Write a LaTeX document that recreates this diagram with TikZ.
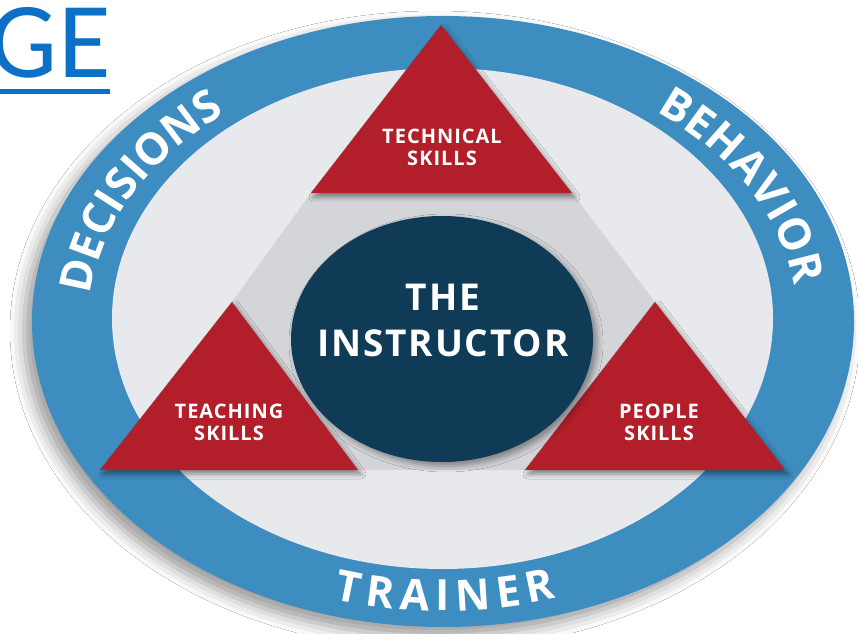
\documentclass[tikz,border=0pt]{standalone}
\usepackage{fontspec}
\usetikzlibrary{decorations.text,shadows.blur}
\newfontfamily\osfont{Open Sans}
\newfontfamily\oslsfont{Open Sans}[LetterSpace=5]
\newfontfamily\gefont{Carlito}
\newcommand\ringtype{\osfont\bfseries\fontsize{44}{44}\selectfont}
\newcommand\trainertype{\osfont\bfseries\fontsize{43}{43}\selectfont}
\definecolor{ringblue}{RGB}{62,141,192}
\definecolor{innergray}{RGB}{232,233,236}
\definecolor{hexgray}{RGB}{212,213,217}
\definecolor{skillred}{RGB}{178,30,42}
\definecolor{navyc}{RGB}{16,59,87}
\definecolor{geblue}{RGB}{12,112,198}
\begin{document}
\begin{tikzpicture}[x=1pt,y=1pt,
  skilltext/.style={text=white, align=center, inner sep=0pt,
    font=\oslsfont\bfseries\fontsize{20}{22}\selectfont},
  centertext/.style={text=white, align=center, inner sep=0pt,
    font=\oslsfont\bfseries\fontsize{37}{46}\selectfont},
  triangle/.style={fill=skillred, blur shadow={shadow xshift=3pt, shadow yshift=-4pt, shadow blur radius=5pt, shadow opacity=45}},
  ringtext/.style={decorate, decoration={text along path, text color=white, text align={fit to path}}}
]
\useasboundingbox (0,0) rectangle (858,633);
\clip (0,0) rectangle (858,633);
\fill[white] (0,0) rectangle (858,633);

% outer ring
\fill[ringblue, blur shadow={shadow xshift=-8pt, shadow yshift=-9pt, shadow blur radius=14pt, shadow opacity=40}]
  (443,311.5) ellipse [x radius=411pt, y radius=305.5pt];
\fill[innergray] (442.5,314.5) ellipse [x radius=330.5pt, y radius=250.5pt];

% gray hexagon
\fill[hexgray] (311,440) -- (572,440) -- (655,331) -- (525,163) -- (358,163) -- (232,331) -- cycle;

% triangles
\fill[triangle] (441,608) -- (572,440) -- (311,440) -- cycle;
\fill[triangle] (232,331) -- (358,163) -- (100,163) -- cycle;
\fill[triangle] (655,331) -- (785,163) -- (525,163) -- cycle;

% centre disc
\fill[navyc, blur shadow={shadow xshift=4pt, shadow yshift=-4pt, shadow blur radius=6pt, shadow opacity=40}]
  (442,294) ellipse [x radius=151pt, y radius=123pt];

% texts
\node[skilltext] (tech) at (442,486) {TECHNICAL\\SKILLS};
\node[skilltext] (teach) at (229,210.5) {TEACHING\\SKILLS};
\node[skilltext] (people) at (659,210.5) {PEOPLE\\SKILLS};
\node[centertext] (instructor) at (443,312.5) {THE\\INSTRUCTOR};

% ring texts
\path[ringtext, decoration={text={|\ringtype|DECISIONS}}]
  (443,313) ++(174.5:354pt and 261pt) arc[start angle=174.5, end angle=129, x radius=354pt, y radius=261pt];
\path[ringtext, decoration={text={|\ringtype|BEHAVIOR}}]
  (443,313) ++(53:354pt and 261pt) arc[start angle=53, end angle=7.5, x radius=354pt, y radius=261pt];
\path[ringtext, decoration={text={|\trainertype|TRAINER}}]
  (443,313) ++(253.4:384pt and 291pt) arc[start angle=253.4, end angle=287.2, x radius=384pt, y radius=291pt];

% title fragment
\node[anchor=base east, inner sep=0pt, text=geblue, font=\gefont\fontsize{108}{108}\selectfont] (ge) at (111,555) {GE};
\fill[geblue] (0,539) rectangle (110,544);
\end{tikzpicture}
\end{document}
